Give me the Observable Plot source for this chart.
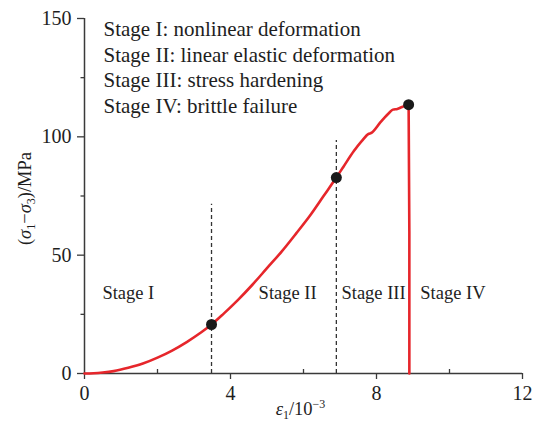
<!DOCTYPE html>
<html>
<head>
<meta charset="utf-8">
<script src="https://cdn.jsdelivr.net/npm/d3@7"></script>
<script src="https://cdn.jsdelivr.net/npm/@observablehq/plot@0.6"></script>
<style>
  html, body { margin: 0; padding: 0; background: #fff; }
  #chart svg, #chart svg text { font-family: "Liberation Serif", "Times New Roman", serif !important; }
</style>
</head>
<body>
<div id="chart"></div>
<script>
// Stress–strain curve: strain (×10⁻³) against deviatoric stress (MPa), up to peak
const strain = [0, 0.25, 0.5, 0.8, 1.2, 1.6, 2.0, 2.4, 2.8, 3.2, 3.48,
  3.8, 4.2, 4.6, 5.0, 5.4, 5.8, 6.2, 6.55, 6.9,
  7.1, 7.38, 7.6, 7.79, 7.85, 8.11, 8.35, 8.45, 8.57, 8.7, 8.88];
const stress = [0, 0.1, 0.4, 1.0, 2.4, 4.2, 6.7, 9.7, 13.3, 17.4, 20.7,
  25.1, 31.0, 37.5, 44.5, 51.5, 59.2, 67.2, 75.0, 82.8,
  87.5, 94.0, 98.3, 101.3, 101.6, 106.2, 110.2, 111.5, 111.8, 112.6, 113.6];

// Post-peak brittle drop
const failStrain = [8.88, 8.9, 8.9];
const failStress = [113.6, 60, 0];

// Stage transition points
const keyStrain = [3.48, 6.9, 8.88];
const keyStress = [20.7, 82.8, 113.6];

// Dashed stage boundaries (strain, upper end in MPa)
const boundaryStrain = [3.48, 6.9];
const boundaryTop = [71.5, 98.4];

// Stage names and where they sit
const stageNames = ["Stage I", "Stage II", "Stage III", "Stage IV"];
const stageStrain = [0.49, 4.77, 7.04, 9.2];
const stageStress = [34, 34, 34, 34];

const legendLines = [
  "Stage I: nonlinear deformation",
  "Stage II: linear elastic deformation",
  "Stage III: stress hardening",
  "Stage IV: brittle failure"
];

const xMajor = [0, 4, 8, 12];
const xMinor = [2, 6, 10];
const yMajor = [0, 50, 100, 150];
const yMinor = [25, 75, 125];

const curve = strain.map((x, i) => ({x, y: stress[i]}));
const failure = failStrain.map((x, i) => ({x, y: failStress[i]}));
const keys = keyStrain.map((x, i) => ({x, y: keyStress[i]}));
const bounds = boundaryStrain.map((x, i) => ({x, top: boundaryTop[i]}));
const stages = stageNames.map((name, i) => ({name, x: stageStrain[i], y: stageStress[i]}));

const axisColor = "#3a3a3a";
const ink = "#1e1e1e";
const red = "#e6262b";

const chart = Plot.plot({
  width: 544,
  height: 427,
  marginLeft: 84,
  marginRight: 22,
  marginTop: 18,
  marginBottom: 54,
  style: {fontSize: "18.5px", background: "#fff", color: ink},
  x: {domain: [0, 12]},
  y: {domain: [0, 150]},
  marks: [
    // tick labels
    Plot.axisX({ticks: xMajor, tickSize: 0, tickPadding: 12, label: null, fontSize: 20, fill: ink}),
    Plot.axisY({ticks: yMajor, tickSize: 0, tickPadding: 13, label: null, fontSize: 20, fill: ink}),
    // tick marks: major outward, minor x inward, minor y outward
    Plot.axisX({ticks: xMajor, tickSize: 6, text: null, label: null, stroke: axisColor, strokeWidth: 1.3}),
    Plot.axisX({ticks: xMinor, tickSize: -4, text: null, label: null, stroke: axisColor, strokeWidth: 1.3}),
    Plot.axisY({ticks: yMajor, tickSize: 7, text: null, label: null, stroke: axisColor, strokeWidth: 1.3}),
    Plot.axisY({ticks: yMinor, tickSize: 3.5, text: null, label: null, stroke: axisColor, strokeWidth: 1.3}),
    // axis lines
    Plot.ruleY([0], {stroke: axisColor, strokeWidth: 1.5}),
    Plot.ruleX([0], {stroke: axisColor, strokeWidth: 1.5}),
    // stage boundaries
    Plot.ruleX(bounds, {x: "x", y1: 0, y2: "top", stroke: "#333", strokeWidth: 1.3, strokeDasharray: "4,3"}),
    // stress–strain curve and brittle drop
    Plot.line(curve, {x: "x", y: "y", stroke: red, strokeWidth: 2.6, curve: "monotone-x"}),
    Plot.line(failure, {x: "x", y: "y", stroke: red, strokeWidth: 2.6, curve: "linear"}),
    Plot.dot(keys, {x: "x", y: "y", r: 5.5, fill: "#1a1a1a", stroke: "none"}),
    // stage names
    Plot.text(stages, {x: "x", y: "y", text: "name", textAnchor: "start", fontSize: 18.5, fill: ink}),
    // stage description block
    Plot.text([legendLines.join("\n")], {
      frameAnchor: "top-left", textAnchor: "start", lineAnchor: "top",
      lineHeight: 1.23, dx: 19, dy: -1, fontSize: 21, fill: ink
    }),
    // axis titles (rebuilt with sub/superscripts below)
    Plot.text(["(σ1−σ3)/MPa"], {
      frameAnchor: "left", textAnchor: "middle", rotate: -90, dx: -59, dy: 2.5,
      fontSize: 18.5, fill: ink
    }),
    Plot.text(["ε1/10−3"], {
      frameAnchor: "bottom", textAnchor: "middle", dx: -3, dy: 41, fontSize: 18.5, fill: ink
    })
  ]
});

document.getElementById("chart").appendChild(chart);

// Axis titles with italic symbols, subscripts and superscript
function rich(content, parts) {
  const t = d3.select(chart).selectAll("text").filter(function() {
    return this.textContent === content;
  });
  if (t.empty()) return;
  t.text(null);
  for (const p of parts) {
    const s = t.append("tspan").text(p.text);
    if (p.italic) s.attr("font-style", "italic");
    if (p.size) s.attr("font-size", p.size);
    if (p.dy) s.attr("dy", p.dy);
  }
}
rich("(σ1−σ3)/MPa", [
  {text: "("},
  {text: "σ", italic: true},
  {text: "1", size: 12, dy: 4},
  {text: "−", dy: -4},
  {text: "σ", italic: true},
  {text: "3", size: 12, dy: 4},
  {text: ")/MPa", dy: -4}
]);
rich("ε1/10−3", [
  {text: "ε", italic: true},
  {text: "1", size: 12, dy: 4},
  {text: "/10", dy: -4},
  {text: "−3", size: 12, dy: -7}
]);
</script>
</body>
</html>
